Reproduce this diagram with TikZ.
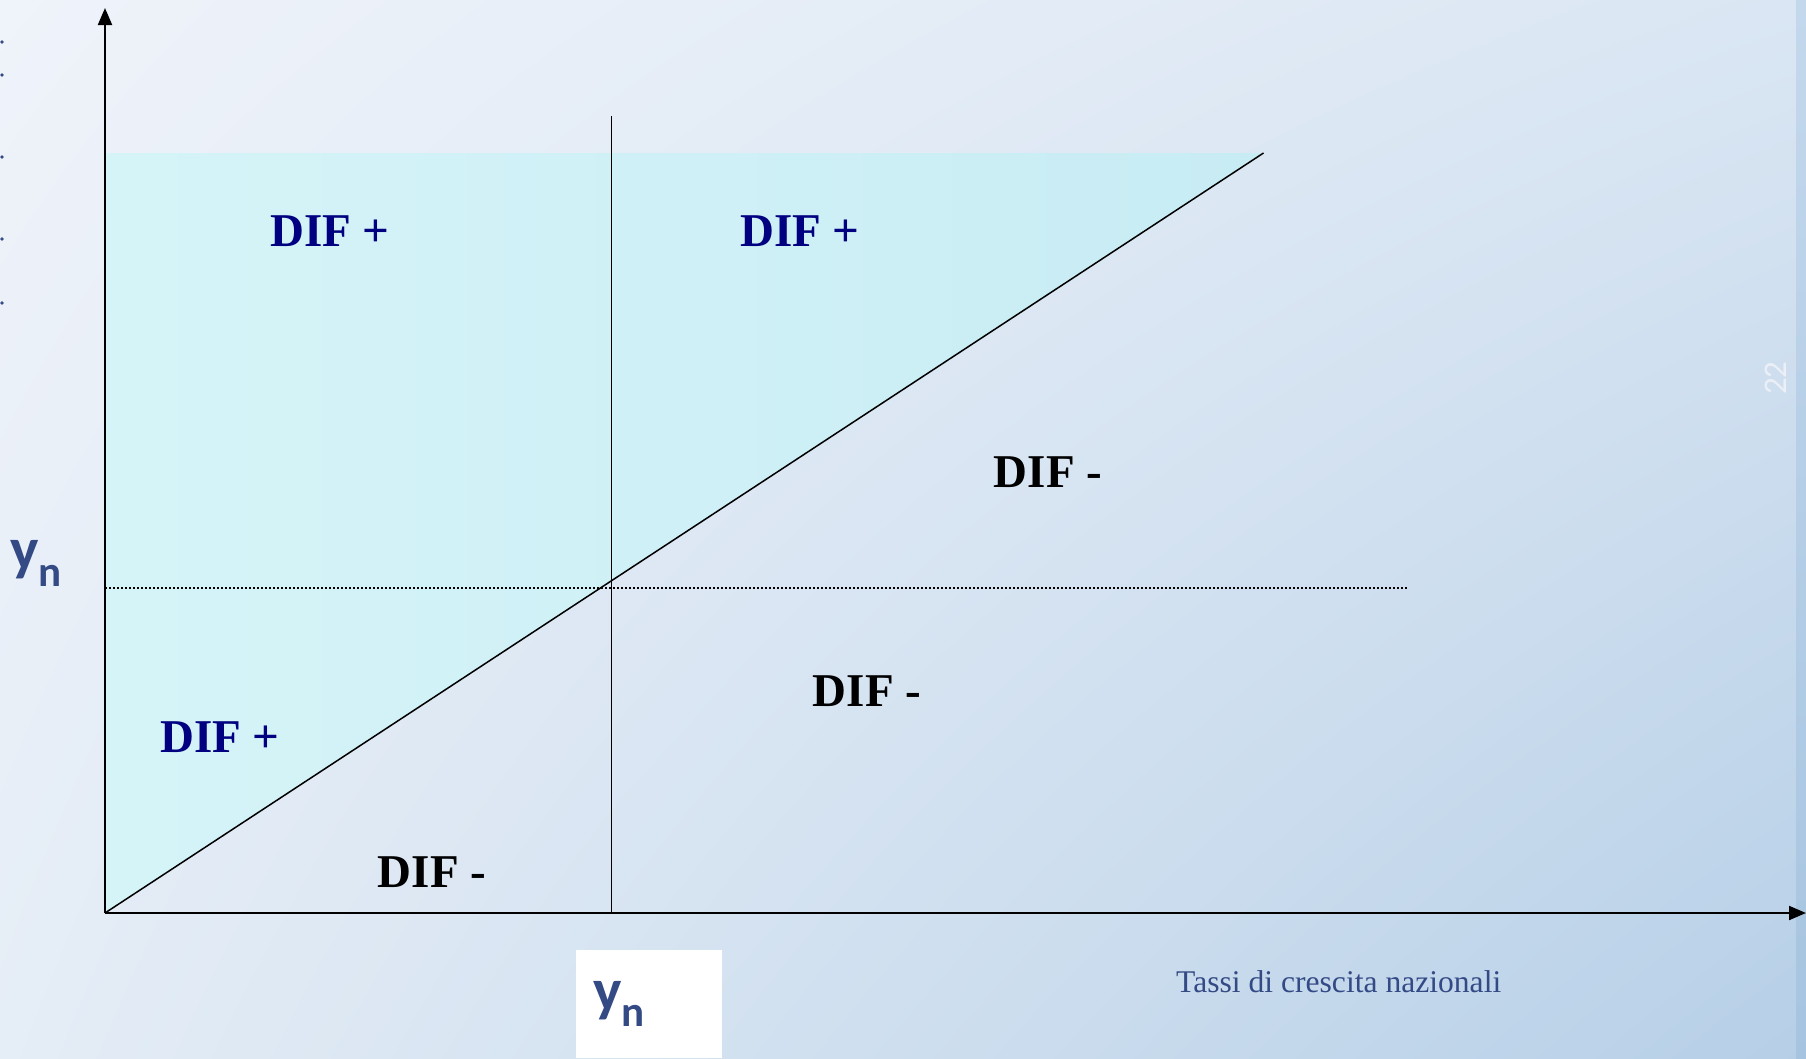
\documentclass[tikz,border=0pt]{standalone}
\usepackage{fontspec}
\setmainfont{Liberation Serif}
\newfontfamily\calfont{Carlito}
\usetikzlibrary{arrows.meta,shadings}
\definecolor{navy}{RGB}{0,0,128}
\definecolor{slate}{RGB}{52,74,133}
\definecolor{bgA}{RGB}{239,243,250}
\definecolor{bgB}{RGB}{218,230,243}
\definecolor{bgC}{RGB}{229,237,246}
\definecolor{bgD}{RGB}{182,207,231}
\definecolor{cyA}{RGB}{213,244,248}
\definecolor{cyB}{RGB}{200,236,244}
\definecolor{stripA}{RGB}{196,216,236}
\definecolor{stripB}{RGB}{166,196,224}
\definecolor{numcol}{RGB}{236,240,246}
\begin{document}
\begin{tikzpicture}[x=1pt,y=-1pt,
  dif/.style={font=\fontsize{47}{50}\selectfont\bfseries, inner sep=0pt},
  difp/.style={dif, text=navy},
  difm/.style={dif, text=black},
  ynlab/.style={font=\calfont\bfseries\fontsize{60}{64}\selectfont, text=slate, inner sep=0pt, anchor=base west},
  axis/.style={line width=2pt, -{Triangle[length=17pt,width=14pt]}},
  guide/.style={line width=1.5pt},
  dotline/.style={line width=2pt, dash pattern=on 2pt off 2pt}]
\useasboundingbox (0,0) rectangle (1806,1058);
% background
\shade[upper left=bgA, upper right=bgB, lower left=bgC, lower right=bgD] (0,0) rectangle (1806,1058);
\shade[top color=stripA, bottom color=stripB] (1796,0) rectangle (1806,1058);
% coordinates
\coordinate (O) at (105,913);
\coordinate (Ytop) at (105,8);
\coordinate (Xend) at (1806,913);
\coordinate (Dtop) at (1263.5,153);
\coordinate (Ftop) at (105,153);
\coordinate (Vtop) at (611.5,116);
\coordinate (Vbot) at (611.5,913);
\coordinate (Hl) at (105,587.5);
\coordinate (Hr) at (1407.5,587.5);
% shaded region
\shade[left color=cyA, right color=cyB] (O) -- (Ftop) -- (Dtop) -- cycle;
% white box under bottom label
\fill[white] (576,950) rectangle (722,1058);
% lines
\draw[guide] (Vtop) -- (Vbot);
\draw[guide] (O) -- (Dtop);
\draw[dotline] (Hl) -- (Hr);
\draw[axis] (O) -- (Ytop);
\draw[axis] (O) -- (Xend);
% labels
\node[difp] (d1) at (330,231) {DIF +};
\node[difp] (d2) at (800,231) {DIF +};
\node[difm] (d3) at (1048,472) {DIF -};
\node[difm] (d4) at (867,691) {DIF -};
\node[difp] (d5) at (220,737) {DIF +};
\node[difm] (d6) at (432,872) {DIF -};
\node[ynlab] (yl) at (10,569) {y\raisebox{-17pt}{\fontsize{43}{43}\selectfont n}};
\node[ynlab] (yb) at (593,1010) {y\raisebox{-16pt}{\fontsize{43}{43}\selectfont n}};
\node[anchor=base west, inner sep=0pt, text=slate, font=\fontsize{31.6}{34}\selectfont] (tx) at (1176,992) {Tassi di crescita nazionali};
\node[rotate=90, inner sep=0pt, text=numcol, font=\calfont\fontsize{33}{36}\selectfont] (pg) at (1776,378) {22};
% cut-off bullets at the left edge
\foreach \yy [count=\i] in {42,75,157,239,303}
  \fill[slate] (2,\yy) circle (1.8);
\end{tikzpicture}
\end{document}
